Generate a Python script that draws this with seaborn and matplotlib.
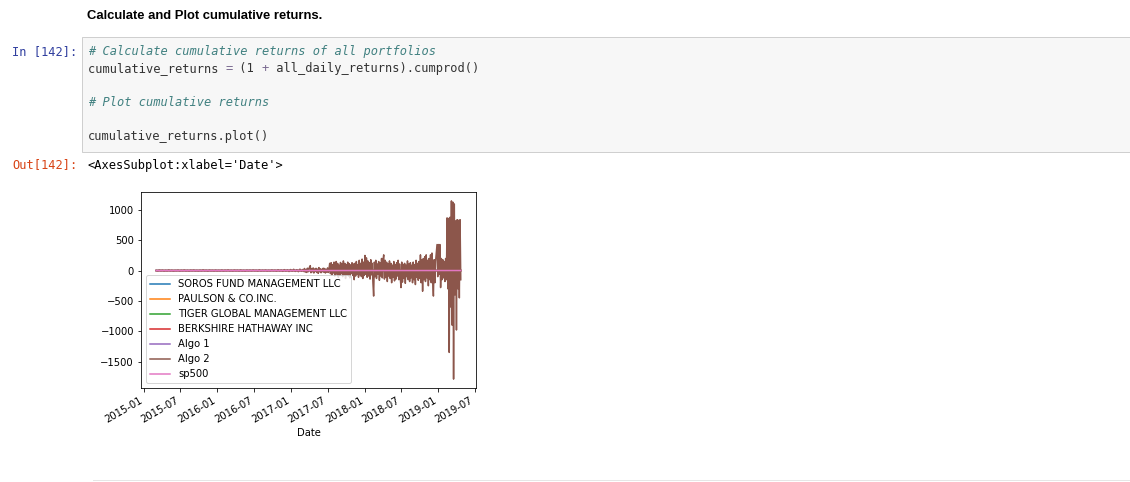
import matplotlib
matplotlib.use("Agg")
import matplotlib.pyplot as plt
import matplotlib.dates as mdates
from matplotlib.patches import Rectangle
from matplotlib.lines import Line2D
import pandas as pd
import seaborn as sns

# Daten (aus dem Bild geschaetzt)
start_date = "2015-03-03"
split_date = "2017-03-01"
end_date = "2019-04-23"

series_names = ["SOROS FUND MANAGEMENT LLC", "PAULSON & CO.INC.",
                "TIGER GLOBAL MANAGEMENT LLC", "BERKSHIRE HATHAWAY INC",
                "Algo 1", "Algo 2", "sp500"]

soros = [1.0, 0.97, 1.02, 0.94, 0.99, 1.06, 1.13, 1.12, 1.15, 1.19, 1.16]
paulson = [1.0, 0.96, 0.92, 0.85, 0.83, 0.80, 0.79, 0.77, 0.78, 0.76, 0.78]
tiger = [1.0, 1.02, 0.91, 0.88, 0.90, 0.96, 1.05, 0.98, 0.86, 0.88, 0.87]
berkshire = [1.0, 0.97, 1.03, 1.08, 1.22, 1.37, 1.50, 1.58, 1.47, 1.53, 1.55]
algo1 = [1.0, 1.05, 1.25, 1.38, 1.52, 1.60, 1.78, 1.83, 1.90, 1.98, 1.97]
sp500 = [1.0, 0.98, 0.94, 1.00, 1.06, 1.14, 1.25, 1.32, 1.31, 1.26, 1.39]

# Algo 2 bis Anfang 2017 (fast flach)
algo2_early = [
    2, -6, 9, -3, 7, -8, 4, -5, 11, -4, 6, -9, 3, -2, 8, -7, 5, -3, 10, -6,
    4, -8, 7, -2, 9, -5, 3, -7, 6, -4, 12, -3, 5, -9, 8, -2, 4, -6, 7, -5,
    3, -4, 9, -8, 6, -3, 11, -5, 4, -7, 8, -2, 5, -6, 10, -4, 3, -9, 7, -3,
    6, -5, 9, -2, 4, -8, 12, -6, 5, -3, 8, -7, 4, -5, 10, -3, 6, -9, 14, -6,
    9, -12, 16, -8, 12, -15, 18, -10, 22, -14, 15, -18, 25, -12,
]
# Algo 2 ab Maerz 2017 (starke Ausschlaege)
algo2_late = [
    20, -15, 35, -25, 18, -30, 40, -20, 25, 60,
    82, -35, 30, -20, 45, -40, 28, -15, 38, -30,
    25, -45, 50, -20, 30, -35, 22, -18, 40, -28,
    35, -40, 20, -25, 45, -30, 30, 120, -50, 130,
    -70, 100, -40, 140, -90, 110, 150, -60, 120, -110,
    90, -80, 135, -50, 110, -100, 160, -70, 120, -130,
    100, -60, 140, -90, 115, -120, 95, -50, 130, -80,
    110, -150, 120, -90, 150, -60, 100, -110, 170, -70,
    120, -100, 190, -130, 140, -80, 250, -60, 210, -110,
    160, -90, 130, -140, 180, -70, 120, -200, -420, 140,
    -100, 170, -130, 110, -60, 150, -160, 130, -90, 200,
    -120, 180, 260, -140, 170, -110, 140, -180, 110, -90,
    160, -130, 120, -200, 90, -110, 150, -170, 100, -140,
    130, -90, 170, -150, 110, -120, -280, 140, -190, 100,
    -130, 120, -210, 90, -100, 160, -150, 110, -180, 130,
    -120, 90, -200, 140, -150, 100, -230, 170, -110, 120,
    -160, 150, -130, 260, -200, 180, -340, 200, -150, 230,
    -180, 260, -120, 170, -250, 200, -150, 260, -200, 290,
    -150, -420, 180, -200, 150, 300, 430, -100, 430, -60,
    430, -280, 200, -150, 180, -120, 150, -180, 200, -150,
    870, -300, 860, -1350, 880, -600, 1150, -900, 1130, -1790,
    1100, -400, 820, -980, 840, -300, 830, -450, 840, -150,
]

other_values = {"SOROS FUND MANAGEMENT LLC": soros, "PAULSON & CO.INC.": paulson,
                "TIGER GLOBAL MANAGEMENT LLC": tiger, "BERKSHIRE HATHAWAY INC": berkshire,
                "Algo 1": algo1, "sp500": sp500}
colors = sns.color_palette("tab10", 7)

W, H = 1130, 482
fig = plt.figure(figsize=(W / 72, H / 72), dpi=72)
fig.patch.set_facecolor("white")


def fx(x):
    return x / W


def fy(y):
    return 1 - y / H


# Notebook-Elemente
fig.text(fx(87), fy(16), "Calculate and Plot cumulative returns.",
         family="Liberation Sans", weight="bold", fontsize=13, va="center")

fig.add_artist(Rectangle((fx(82), fy(152)), fx(1140) - fx(82), fy(37) - fy(152),
                         transform=fig.transFigure, facecolor="#f7f7f7",
                         edgecolor="#cfcfcf", linewidth=1))

mono = "DejaVu Sans Mono"
fs = 12
cw = 0.602 * fs
fig.text(fx(12), fy(51.7), "In [142]:", family=mono, fontsize=fs, color="#303F9F", va="center")
fig.text(fx(12), fy(165), "Out[142]:", family=mono, fontsize=fs, color="#D84315", va="center")

code_lines = [
    (51.7, [("# Calculate cumulative returns of all portfolios", "#408080", "italic")]),
    (68.7, [("cumulative_returns ", "#333333", "normal"), ("=", "#7a6a90", "normal"),
            (" (1 ", "#333333", "normal"), ("+", "#7a6a90", "normal"),
            (" all_daily_returns).cumprod()", "#333333", "normal")]),
    (102.7, [("# Plot cumulative returns", "#408080", "italic")]),
    (136.7, [("cumulative_returns.plot()", "#333333", "normal")]),
]
for y, tokens in code_lines:
    x = 88
    for txt, col, style in tokens:
        fig.text(fx(x), fy(y), txt, family=mono, fontsize=fs, color=col,
                 style=style, va="center")
        x += len(txt) * cw

fig.text(fx(88), fy(165), "<AxesSubplot:xlabel='Date'>", family=mono, fontsize=fs,
         color="#000000", va="center")

fig.add_artist(Line2D([fx(93), fx(1130)], [fy(480), fy(480)], transform=fig.transFigure,
                      color="#e6e6e6", linewidth=1))

# Grafik
ax = fig.add_axes([fx(141), fy(388), fx(476) - fx(141), fy(192) - fy(388)])

algo2_dates = pd.date_range(start_date, split_date, periods=len(algo2_early) + 1)[:-1].append(
    pd.date_range(split_date, end_date, periods=len(algo2_late)))
algo2 = algo2_early + algo2_late

for name, col in zip(series_names, colors):
    if name == "Algo 2":
        dates, vals = algo2_dates, algo2
    else:
        vals = other_values[name]
        dates = pd.date_range(start_date, end_date, periods=len(vals))
    sns.lineplot(x=dates, y=vals, ax=ax, color=col, label=name, linewidth=1.5)

ax.xaxis.set_major_locator(mdates.MonthLocator(bymonth=[1, 7]))
ax.xaxis.set_major_formatter(mdates.DateFormatter("%Y-%m"))
for lbl in ax.get_xticklabels():
    lbl.set_rotation(30)
    lbl.set_ha("right")
ax.set_xlabel("Date")
ax.set_ylabel("")
ax.legend(loc="lower left")

fig.savefig("out.png", dpi=72)
